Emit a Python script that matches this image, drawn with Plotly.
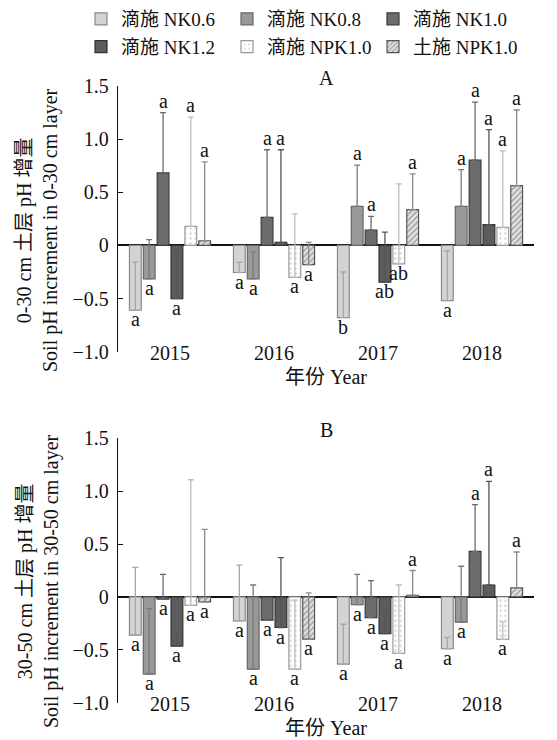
import plotly.graph_objects as go

years = ["2015", "2016", "2017", "2018"]
series_names = ["滴施 NK0.6", "滴施 NK0.8", "滴施 NK1.0", "滴施 NK1.2", "滴施 NPK1.0", "土施 NPK1.0"]

# Panel A: 0-30 cm (mean increment, upper error)
a_nk06 = [-0.61, -0.255, -0.68, -0.52]
a_nk08 = [-0.314, -0.314, 0.368, 0.368]
a_nk10 = [0.683, 0.264, 0.145, 0.802]
a_nk12 = [-0.50, 0.028, -0.345, 0.195]
a_npk_drip = [0.179, -0.30, -0.173, 0.17]
a_npk_soil = [0.044, -0.18, 0.337, 0.563]

a_nk06_err = [0.453, 0.095, 0.43, 0.47]
a_nk08_err = [0.368, 0.254, 0.387, 0.346]
a_nk10_err = [0.566, 0.636, 0.129, 0.547]
a_nk12_err = [0.47, 0.872, 0.471, 0.895]
a_npk_drip_err = [1.029, 0.596, 0.752, 0.72]
a_npk_soil_err = [0.743, 0.208, 0.337, 0.711]

a_nk06_sig = ["a", "a", "b", "a"]
a_nk08_sig = ["a", "a", "a", "a"]
a_nk10_sig = ["a", "a", "a", "a"]
a_nk12_sig = ["a", "a", "ab", "a"]
a_npk_drip_sig = ["a", "a", "ab", "a"]
a_npk_soil_sig = ["a", "a", "a", "a"]

# Panel B: 30-50 cm
b_nk06 = [-0.361, -0.226, -0.635, -0.49]
b_nk08 = [-0.729, -0.682, -0.072, -0.239]
b_nk10 = [-0.02, -0.22, -0.195, 0.431]
b_nk12 = [-0.465, -0.289, -0.346, 0.113]
b_npk_drip = [-0.08, -0.682, -0.534, -0.402]
b_npk_soil = [-0.047, -0.399, 0.016, 0.085]

b_nk06_err = [0.641, 0.526, 0.377, 0.107]
b_nk08_err = [0.619, 0.795, 0.286, 0.529]
b_nk10_err = [0.234, 0.2, 0.35, 0.441]
b_nk12_err = [0.135, 0.661, 0.176, 0.979]
b_npk_drip_err = [1.188, 0.652, 0.647, 0.166]
b_npk_soil_err = [0.686, 0.437, 0.234, 0.34]

b_nk06_sig = ["a", "a", "a", "a"]
b_nk08_sig = ["a", "a", "a", "a"]
b_nk10_sig = ["a", "a", "a", "a"]
b_nk12_sig = ["a", "a", "a", "a"]
b_npk_drip_sig = ["a", "a", "a", "a"]
b_npk_soil_sig = ["a", "a", "a", "a"]

y_tickvals = [-1.0, -0.5, 0, 0.5, 1.0, 1.5]
y_ticktext = ["−1.0", "−0.5", "0", "0.5", "1.0", "1.5"]

FONT = "Liberation Serif, 'Noto Sans CJK SC', serif"

styles = [
    dict(color="#d3d3d3", line="#8a8a8a", err="#a8a8a8", pattern=None),
    dict(color="#999999", line="#666666", err="#7a7a7a", pattern=None),
    dict(color="#6c6c6c", line="#3a3a3a", err="#6a6a6a", pattern=None),
    dict(color="#5c5c5c", line="#333333", err="#555555", pattern=None),
    dict(color="#ffffff", line="#9a9a9a", err="#bdbdbd",
         pattern=dict(shape=".", fgcolor="#b0b0b0", bgcolor="#ffffff", size=5, solidity=0.2)),
    dict(color="#dddddd", line="#555555", err="#8a8a8a",
         pattern=dict(shape="/", fgcolor="#555555", bgcolor="#e2e2e2", size=4, solidity=0.35)),
]

panels = [
    dict(xa="x", ya="y",
         vals=[a_nk06, a_nk08, a_nk10, a_nk12, a_npk_drip, a_npk_soil],
         errs=[a_nk06_err, a_nk08_err, a_nk10_err, a_nk12_err, a_npk_drip_err, a_npk_soil_err],
         sigs=[a_nk06_sig, a_nk08_sig, a_nk10_sig, a_nk12_sig, a_npk_drip_sig, a_npk_soil_sig]),
    dict(xa="x2", ya="y2",
         vals=[b_nk06, b_nk08, b_nk10, b_nk12, b_npk_drip, b_npk_soil],
         errs=[b_nk06_err, b_nk08_err, b_nk10_err, b_nk12_err, b_npk_drip_err, b_npk_soil_err],
         sigs=[b_nk06_sig, b_nk08_sig, b_nk10_sig, b_nk12_sig, b_npk_drip_sig, b_npk_soil_sig]),
]

fig = go.Figure()
annotations = []
n = len(series_names)
group_w = 0.8
for p_idx, p in enumerate(panels):
    for i, name in enumerate(series_names):
        st = styles[i]
        marker = dict(color=st["color"], line=dict(color=st["line"], width=1.2))
        if st["pattern"]:
            marker["pattern"] = st["pattern"]
        fig.add_trace(go.Bar(
            x=years, y=p["vals"][i], name=name, xaxis=p["xa"], yaxis=p["ya"],
            marker=marker, legendgroup=name, showlegend=(p_idx == 0),
            error_y=dict(type="data", symmetric=False, array=p["errs"][i],
                         arrayminus=[0] * len(years), color=st["err"],
                         thickness=1.3, width=3),
        ))
        off = -group_w / 2 + (i + 0.5) * group_w / n
        for j, yr in enumerate(years):
            v = p["vals"][i][j]
            e = p["errs"][i][j]
            if v >= 0:
                yv, anc, sh = v + e, "bottom", -1
            else:
                yv, anc, sh = v, "top", 4
            annotations.append(dict(
                x=j + off, y=yv, xref=p["xa"], yref=p["ya"], text=p["sigs"][i][j],
                showarrow=False, yanchor=anc, yshift=sh, xanchor="center",
                font=dict(family=FONT, size=20, color="#111"),
            ))

W, H = 557, 740
x_dom = [118 / W, 534 / W]
ya_dom = [1 - 351.7 / H, 1 - 86 / H]
yb_dom = [1 - 702.7 / H, 1 - 438.3 / H]

axis_font = dict(family=FONT, size=20, color="#111")

common_y = dict(range=[-1.0, 1.5], tickvals=y_tickvals, ticktext=y_ticktext,
                showline=True, linecolor="#111", linewidth=1.3, ticks="inside",
                ticklen=5, tickcolor="#111", tickfont=axis_font, showgrid=False,
                zeroline=True, zerolinecolor="#111", zerolinewidth=1.6,
                ticklabelstandoff=4, automargin=False)
common_x = dict(type="category", categoryorder="array", categoryarray=years,
                range=[-0.5, 3.5], showline=False, ticks="", showgrid=False,
                zeroline=False, tickfont=axis_font, ticklabelstandoff=-13,
                automargin=False,
                title=dict(text="年份 Year", font=axis_font, standoff=7))

fig.update_layout(
    width=W, height=H,
    margin=dict(l=0, r=0, t=0, b=0, autoexpand=False),
    paper_bgcolor="white", plot_bgcolor="white",
    barmode="group", bargap=0.2, bargroupgap=0.15,
    xaxis=dict(domain=x_dom, anchor="y", **common_x),
    yaxis=dict(domain=ya_dom, anchor="x", **common_y),
    xaxis2=dict(domain=x_dom, anchor="y2", **common_x),
    yaxis2=dict(domain=yb_dom, anchor="x2", **common_y),
    legend=dict(orientation="h", x=81 / W, xanchor="left", y=1.0, yanchor="top",
                font=dict(family=FONT, size=19, color="#111"),
                entrywidth=101, entrywidthmode="pixels", traceorder="normal",
                bgcolor="rgba(0,0,0,0)", tracegroupgap=0),
    showlegend=True,
)

title_font = dict(family=FONT, size=20, color="#111")
annotations += [
    dict(text="A", x=(x_dom[0] + x_dom[1]) / 2, y=1 - 78 / H, xref="paper", yref="paper",
         xanchor="center", yanchor="middle", showarrow=False, font=title_font),
    dict(text="B", x=(x_dom[0] + x_dom[1]) / 2, y=1 - 430 / H, xref="paper", yref="paper",
         xanchor="center", yanchor="middle", showarrow=False, font=title_font),
    dict(text="0-30 cm 土层 pH 增量<br>Soil pH increment in 0-30 cm layer",
         x=38 / W, y=1 - 230 / H, xref="paper", yref="paper", textangle=-90,
         xanchor="center", yanchor="middle", showarrow=False, font=title_font),
    dict(text="30-50 cm 土层 pH 增量<br>Soil pH increment in 30-50 cm layer",
         x=38 / W, y=1 - 581 / H, xref="paper", yref="paper", textangle=-90,
         xanchor="center", yanchor="middle", showarrow=False, font=title_font),
]
fig.update_layout(annotations=annotations)

fig.write_html("out.html", config={"displayModeBar": False},
               post_script="document.body.style.margin='0';")
